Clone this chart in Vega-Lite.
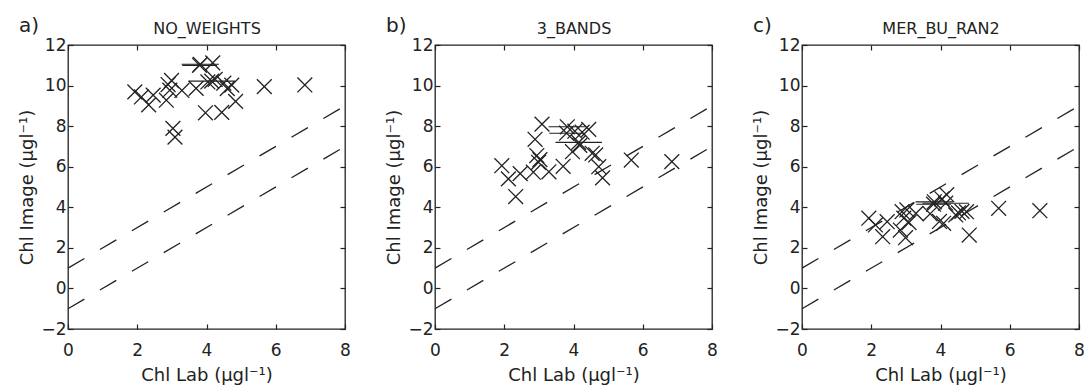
{
  "$schema": "https://vega.github.io/schema/vega-lite/v6.json",
  "padding": {"left": 18, "top": 15, "right": 4, "bottom": 0},
  "background": "white",
  "spacing": 33,
  "config": {
    "view": {"stroke": "#222", "strokeWidth": 1.3},
    "font": "DejaVu Sans",
    "axis": {"grid": false, "domain": false, "tickSize": -5, "tickColor": "#222", "tickWidth": 1.2, "labelFontSize": 17, "titleFontSize": 18, "labelColor": "#222", "titleColor": "#222", "titleFontWeight": "normal", "labelFont": "DejaVu Sans", "titleFont": "DejaVu Sans", "labelFlush": false, "labelOverlap": false},
    "title": {"fontSize": 20, "fontWeight": "normal", "color": "#222", "font": "DejaVu Sans"}
  },
  "datasets": {
    "lines": [
      {"l": "upper", "x": 0, "y": 1}, {"l": "upper", "x": 8, "y": 9},
      {"l": "lower", "x": 0, "y": -1}, {"l": "lower", "x": 8, "y": 7}
    ],
    "pts": [
      {"p": "a", "x": 1.93, "y": 9.69, "e": 0}, {"p": "a", "x": 2.12, "y": 9.44, "e": 0}, {"p": "a", "x": 2.33, "y": 9.05, "e": 0},
      {"p": "a", "x": 2.46, "y": 9.53, "e": 0}, {"p": "a", "x": 2.84, "y": 9.28, "e": 0}, {"p": "a", "x": 2.89, "y": 10.05, "e": 0},
      {"p": "a", "x": 2.94, "y": 9.77, "e": 0}, {"p": "a", "x": 2.99, "y": 10.25, "e": 0}, {"p": "a", "x": 3.03, "y": 7.89, "e": 0},
      {"p": "a", "x": 3.09, "y": 7.46, "e": 0}, {"p": "a", "x": 3.29, "y": 9.76, "e": 0}, {"p": "a", "x": 3.70, "y": 9.86, "e": 0},
      {"p": "a", "x": 3.82, "y": 11.05, "e": 0.54}, {"p": "a", "x": 3.80, "y": 11.0, "e": 0.5}, {"p": "a", "x": 4.15, "y": 10.22, "e": 0.67},
      {"p": "a", "x": 3.97, "y": 8.66, "e": 0}, {"p": "a", "x": 4.04, "y": 10.18, "e": 0}, {"p": "a", "x": 4.18, "y": 11.12, "e": 0},
      {"p": "a", "x": 4.25, "y": 10.30, "e": 0}, {"p": "a", "x": 4.44, "y": 8.68, "e": 0}, {"p": "a", "x": 4.50, "y": 10.12, "e": 0},
      {"p": "a", "x": 4.60, "y": 9.85, "e": 0}, {"p": "a", "x": 4.73, "y": 10.02, "e": 0}, {"p": "a", "x": 4.84, "y": 9.22, "e": 0},
      {"p": "a", "x": 5.67, "y": 9.95, "e": 0}, {"p": "a", "x": 6.84, "y": 10.03, "e": 0},

      {"p": "b", "x": 1.93, "y": 6.05, "e": 0}, {"p": "b", "x": 2.12, "y": 5.40, "e": 0}, {"p": "b", "x": 2.33, "y": 4.53, "e": 0},
      {"p": "b", "x": 2.46, "y": 5.66, "e": 0}, {"p": "b", "x": 2.84, "y": 5.73, "e": 0}, {"p": "b", "x": 2.89, "y": 7.35, "e": 0},
      {"p": "b", "x": 2.94, "y": 6.55, "e": 0}, {"p": "b", "x": 2.99, "y": 6.22, "e": 0}, {"p": "b", "x": 3.03, "y": 6.35, "e": 0},
      {"p": "b", "x": 3.09, "y": 8.10, "e": 0}, {"p": "b", "x": 3.29, "y": 5.75, "e": 0}, {"p": "b", "x": 3.70, "y": 6.02, "e": 0},
      {"p": "b", "x": 3.82, "y": 7.97, "e": 0.54}, {"p": "b", "x": 3.80, "y": 7.65, "e": 0.5}, {"p": "b", "x": 4.15, "y": 7.20, "e": 0.67},
      {"p": "b", "x": 3.97, "y": 6.74, "e": 0}, {"p": "b", "x": 4.04, "y": 7.75, "e": 0}, {"p": "b", "x": 4.18, "y": 7.05, "e": 0},
      {"p": "b", "x": 4.25, "y": 7.70, "e": 0}, {"p": "b", "x": 4.44, "y": 7.84, "e": 0}, {"p": "b", "x": 4.54, "y": 6.66, "e": 0},
      {"p": "b", "x": 4.64, "y": 6.58, "e": 0}, {"p": "b", "x": 4.73, "y": 6.00, "e": 0}, {"p": "b", "x": 4.84, "y": 5.45, "e": 0},
      {"p": "b", "x": 5.67, "y": 6.33, "e": 0}, {"p": "b", "x": 6.84, "y": 6.25, "e": 0},

      {"p": "c", "x": 1.93, "y": 3.46, "e": 0}, {"p": "c", "x": 2.12, "y": 3.13, "e": 0}, {"p": "c", "x": 2.33, "y": 2.55, "e": 0},
      {"p": "c", "x": 2.46, "y": 3.29, "e": 0}, {"p": "c", "x": 2.84, "y": 2.88, "e": 0}, {"p": "c", "x": 2.89, "y": 3.78, "e": 0},
      {"p": "c", "x": 2.94, "y": 3.46, "e": 0}, {"p": "c", "x": 2.99, "y": 2.50, "e": 0}, {"p": "c", "x": 3.03, "y": 3.87, "e": 0},
      {"p": "c", "x": 3.09, "y": 3.25, "e": 0}, {"p": "c", "x": 3.29, "y": 3.70, "e": 0}, {"p": "c", "x": 3.70, "y": 3.68, "e": 0},
      {"p": "c", "x": 3.82, "y": 4.27, "e": 0.54}, {"p": "c", "x": 3.80, "y": 4.15, "e": 0.5}, {"p": "c", "x": 4.15, "y": 4.20, "e": 0.67},
      {"p": "c", "x": 3.97, "y": 3.30, "e": 0}, {"p": "c", "x": 4.04, "y": 4.42, "e": 0}, {"p": "c", "x": 4.18, "y": 4.62, "e": 0},
      {"p": "c", "x": 4.09, "y": 3.21, "e": 0}, {"p": "c", "x": 4.44, "y": 3.62, "e": 0}, {"p": "c", "x": 4.52, "y": 3.72, "e": 0},
      {"p": "c", "x": 4.62, "y": 3.80, "e": 0}, {"p": "c", "x": 4.75, "y": 3.78, "e": 0}, {"p": "c", "x": 4.83, "y": 2.63, "e": 0},
      {"p": "c", "x": 5.68, "y": 3.95, "e": 0}, {"p": "c", "x": 6.87, "y": 3.83, "e": 0}
    ]
  },
  "hconcat": [
    {
      "width": 277, "height": 284,
      "title": {"text": "a)", "anchor": "start", "frame": "bounds", "offset": -16},
      "resolve": {"axis": {"x": "independent", "y": "independent"}},
      "layer": [
        {
          "data": {"name": "lines"},
          "mark": {"type": "line", "color": "#222", "strokeWidth": 1.3, "strokeDash": [19, 18]},
          "encoding": {
            "x": {"field": "x", "type": "quantitative", "scale": {"domain": [0, 8], "nice": false}, "axis": {"orient": "bottom", "values": [0, 2, 4, 6, 8], "title": "Chl Lab (μgl⁻¹)", "labelPadding": 18, "titlePadding": 8}},
            "y": {"field": "y", "type": "quantitative", "scale": {"domain": [-2, 12], "nice": false, "zero": false}, "axis": {"orient": "left", "values": [-2, 0, 2, 4, 6, 8, 10, 12], "title": "Chl Image (μgl⁻¹)", "labelPadding": 7, "titlePadding": 4}},
            "detail": {"field": "l"}
          }
        },
        {
          "data": {"name": "pts"},
          "transform": [{"filter": "datum.p == 'a' && datum.e > 0"}],
          "mark": {"type": "errorbar", "color": "#222", "thickness": 1.2},
          "encoding": {
            "x": {"field": "x", "type": "quantitative", "axis": null},
            "xError": {"field": "e"},
            "y": {"field": "y", "type": "quantitative", "axis": null}
          }
        },
        {
          "data": {"name": "pts"},
          "transform": [{"filter": "datum.p == 'a'"}],
          "mark": {"type": "point", "shape": "M-1,-1L1,1M-1,1L1,-1", "filled": false, "stroke": "#222", "strokeWidth": 1.3, "size": 220, "opacity": 1},
          "encoding": {
            "x": {"field": "x", "type": "quantitative", "axis": {"orient": "top", "values": [0, 2, 4, 6, 8], "labels": false, "title": "NO_WEIGHTS", "titleFontSize": 16, "titlePadding": 8}},
            "y": {"field": "y", "type": "quantitative", "axis": {"orient": "right", "values": [-2, 0, 2, 4, 6, 8, 10, 12], "labels": false, "title": null}}
          }
        }
      ]
    },
    {
      "width": 277, "height": 284,
      "title": {"text": "b)", "anchor": "start", "frame": "bounds", "offset": -16},
      "resolve": {"axis": {"x": "independent", "y": "independent"}},
      "layer": [
        {
          "data": {"name": "lines"},
          "mark": {"type": "line", "color": "#222", "strokeWidth": 1.3, "strokeDash": [19, 18]},
          "encoding": {
            "x": {"field": "x", "type": "quantitative", "scale": {"domain": [0, 8], "nice": false}, "axis": {"orient": "bottom", "values": [0, 2, 4, 6, 8], "title": "Chl Lab (μgl⁻¹)", "labelPadding": 18, "titlePadding": 8}},
            "y": {"field": "y", "type": "quantitative", "scale": {"domain": [-2, 12], "nice": false, "zero": false}, "axis": {"orient": "left", "values": [-2, 0, 2, 4, 6, 8, 10, 12], "title": "Chl Image (μgl⁻¹)", "labelPadding": 7, "titlePadding": 4}},
            "detail": {"field": "l"}
          }
        },
        {
          "data": {"name": "pts"},
          "transform": [{"filter": "datum.p == 'b' && datum.e > 0"}],
          "mark": {"type": "errorbar", "color": "#222", "thickness": 1.2},
          "encoding": {
            "x": {"field": "x", "type": "quantitative", "axis": null},
            "xError": {"field": "e"},
            "y": {"field": "y", "type": "quantitative", "axis": null}
          }
        },
        {
          "data": {"name": "pts"},
          "transform": [{"filter": "datum.p == 'b'"}],
          "mark": {"type": "point", "shape": "M-1,-1L1,1M-1,1L1,-1", "filled": false, "stroke": "#222", "strokeWidth": 1.3, "size": 220, "opacity": 1},
          "encoding": {
            "x": {"field": "x", "type": "quantitative", "axis": {"orient": "top", "values": [0, 2, 4, 6, 8], "labels": false, "title": "3_BANDS", "titleFontSize": 16, "titlePadding": 8}},
            "y": {"field": "y", "type": "quantitative", "axis": {"orient": "right", "values": [-2, 0, 2, 4, 6, 8, 10, 12], "labels": false, "title": null}}
          }
        }
      ]
    },
    {
      "width": 277, "height": 284,
      "title": {"text": "c)", "anchor": "start", "frame": "bounds", "offset": -16},
      "resolve": {"axis": {"x": "independent", "y": "independent"}},
      "layer": [
        {
          "data": {"name": "lines"},
          "mark": {"type": "line", "color": "#222", "strokeWidth": 1.3, "strokeDash": [19, 18]},
          "encoding": {
            "x": {"field": "x", "type": "quantitative", "scale": {"domain": [0, 8], "nice": false}, "axis": {"orient": "bottom", "values": [0, 2, 4, 6, 8], "title": "Chl Lab (μgl⁻¹)", "labelPadding": 18, "titlePadding": 8}},
            "y": {"field": "y", "type": "quantitative", "scale": {"domain": [-2, 12], "nice": false, "zero": false}, "axis": {"orient": "left", "values": [-2, 0, 2, 4, 6, 8, 10, 12], "title": "Chl Image (μgl⁻¹)", "labelPadding": 7, "titlePadding": 4}},
            "detail": {"field": "l"}
          }
        },
        {
          "data": {"name": "pts"},
          "transform": [{"filter": "datum.p == 'c' && datum.e > 0"}],
          "mark": {"type": "errorbar", "color": "#222", "thickness": 1.2},
          "encoding": {
            "x": {"field": "x", "type": "quantitative", "axis": null},
            "xError": {"field": "e"},
            "y": {"field": "y", "type": "quantitative", "axis": null}
          }
        },
        {
          "data": {"name": "pts"},
          "transform": [{"filter": "datum.p == 'c'"}],
          "mark": {"type": "point", "shape": "M-1,-1L1,1M-1,1L1,-1", "filled": false, "stroke": "#222", "strokeWidth": 1.3, "size": 220, "opacity": 1},
          "encoding": {
            "x": {"field": "x", "type": "quantitative", "axis": {"orient": "top", "values": [0, 2, 4, 6, 8], "labels": false, "title": "MER_BU_RAN2", "titleFontSize": 16, "titlePadding": 8}},
            "y": {"field": "y", "type": "quantitative", "axis": {"orient": "right", "values": [-2, 0, 2, 4, 6, 8, 10, 12], "labels": false, "title": null}}
          }
        }
      ]
    }
  ]
}
